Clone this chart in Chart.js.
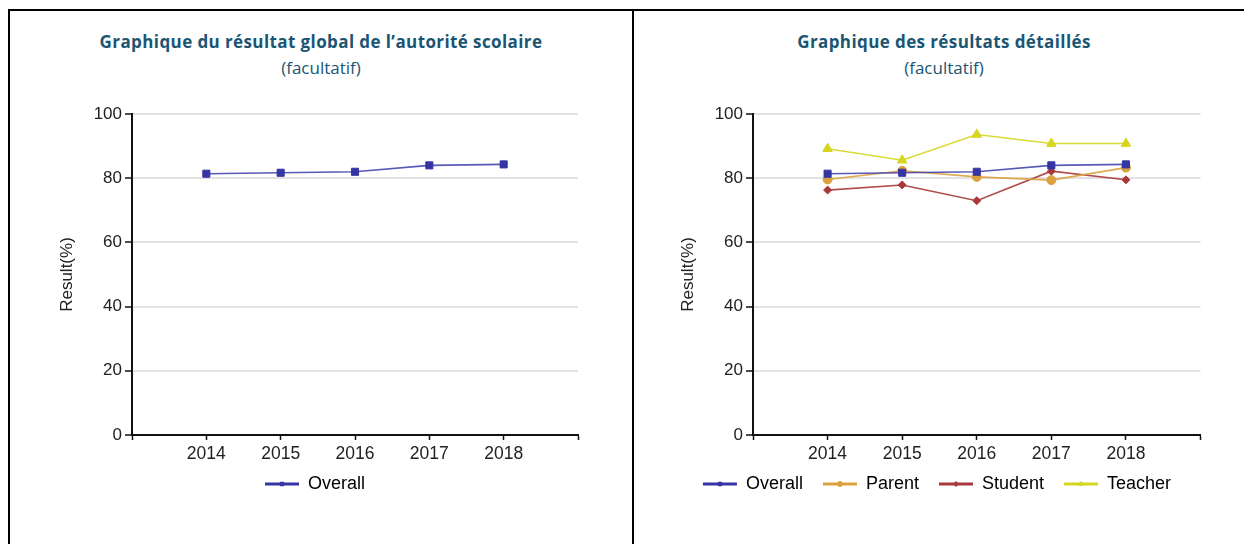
<!DOCTYPE html>
<html>
<head>
<meta charset="utf-8">
<script src="https://cdn.jsdelivr.net/npm/chart.js@4/dist/chart.umd.min.js"></script>
<style>
  html, body { margin: 0; padding: 0; background: #fff; width: 1244px; height: 544px; overflow: hidden; }
  .line { position: absolute; background: #000; }
  .title { position: absolute; text-align: center; color: #1a5573; font-family: "Open Sans", Lato, sans-serif; font-size: 17px; line-height: 20px; white-space: nowrap; }
  .title b { font-weight: 700; letter-spacing: 0.4px; }
  canvas { position: absolute; }
</style>
</head>
<body>
<div class="line" style="left:8px; top:9px; width:1236px; height:2px;"></div>
<div class="line" style="left:8px; top:9px; width:2px; height:535px;"></div>
<div class="line" style="left:632px; top:9px; width:2px; height:535px;"></div>

<div class="title" style="left:10px; width:622px; top:32px;"><b>Graphique du résultat global de l’autorité scolaire</b></div>
<div class="title" style="left:10px; width:622px; top:58px;">(facultatif)</div>
<div class="title" style="left:634px; width:620px; top:32px;"><b>Graphique des résultats détaillés</b></div>
<div class="title" style="left:634px; width:620px; top:58px;">(facultatif)</div>

<div id="w1" style="position:absolute; left:46px; top:90px; width:538px; height:454px;"><canvas id="c1"></canvas></div>
<div id="w2" style="position:absolute; left:667px; top:90px; width:540px; height:454px;"><canvas id="c2"></canvas></div>

<script>
// ---- data ----
const years = [2014, 2015, 2016, 2017, 2018];
const overall = [81.4, 81.7, 82.0, 84.0, 84.3];
const parent  = [79.6, 82.3, 80.4, 79.4, 83.3];
const student = [76.3, 77.9, 73.0, 82.2, 79.5];
const teacher = [89.2, 85.6, 93.6, 90.8, 90.8];
const yTicks = [0, 20, 40, 60, 80, 100];
const axisTitle = 'Result(%)';

const seriesStyle = {
  Overall: { color: '#3535a3', line: 'rgba(60,60,170,0.85)', point: 'rect', radius: 5 },
  Parent:  { color: '#dba13e', line: 'rgba(219,161,62,0.9)', point: 'circle', radius: 4.5 },
  Student: { color: '#a8383a', line: 'rgba(168,56,58,0.9)', point: 'rectRot', radius: 4 },
  Teacher: { color: '#d6d61e', line: 'rgba(214,214,30,0.9)', point: 'triangle', radius: 5.5 }
};

function makeDataset(name, values) {
  const s = seriesStyle[name];
  return {
    label: name,
    data: years.map((y, i) => ({ x: y, y: values[i] })),
    borderColor: s.line,
    backgroundColor: s.color,
    borderWidth: 1.6,
    pointStyle: s.point,
    pointRadius: s.radius,
    pointBackgroundColor: s.color,
    pointBorderColor: s.color,
    pointBorderWidth: 1,
    tension: 0
  };
}

const legendMarker = {
  id: 'legendMarker',
  afterDraw(chart) {
    const lg = chart.legend;
    if (!lg || !lg.legendHitBoxes) return;
    const ctx = chart.ctx;
    lg.legendHitBoxes.forEach((hb, i) => {
      const ds = chart.data.datasets[i];
      const bw = lg.options.labels.boxWidth;
      const x = hb.left + bw / 2;
      const y = hb.top + hb.height / 2;
      ctx.save();
      ctx.fillStyle = ds.pointBackgroundColor;
      ctx.strokeStyle = ds.pointBackgroundColor;
      Chart.helpers.drawPoint(ctx, { pointStyle: ds.pointStyle, radius: 2.5, rotation: 0, borderWidth: 1 }, x, y);
      ctx.restore();
    });
  }
};

function makeChart(id, datasets) {
  return new Chart(document.getElementById(id), {
    type: 'line',
    data: { datasets },
    plugins: [legendMarker],
    options: {
      responsive: true,
      maintainAspectRatio: false,
      animation: false,
      layout: { padding: { top: 24, left: 0, right: 0, bottom: 41 } },
      plugins: {
        tooltip: { enabled: false },
        title: { display: false },
        legend: {
          display: true,
          position: 'bottom',
          labels: {
            boxWidth: 34,
            boxHeight: 3,
            padding: 20,
            color: '#222',
            font: { family: 'Liberation Sans, Arial, sans-serif', size: 18 },
            generateLabels(chart) {
              return chart.data.datasets.map((d, i) => ({
                text: d.label,
                fillStyle: d.pointBackgroundColor,
                strokeStyle: d.pointBackgroundColor,
                lineWidth: 0,
                datasetIndex: i,
                hidden: false
              }));
            }
          }
        }
      },
      scales: {
        x: {
          type: 'linear',
          min: years[0] - 1,
          max: years[years.length - 1] + 1,
          afterBuildTicks(scale) {
            const t = [scale.min];
            years.forEach(v => t.push(v));
            t.push(scale.max);
            scale.ticks = t.map(v => ({ value: v }));
          },
          afterFit(scale) {
            scale.height -= 14;
            scale._computeLabelArea = () => undefined;
          },
          ticks: {
            autoSkip: false,
            maxRotation: 0,
            padding: 4,
            color: '#222',
            font: { family: 'Liberation Sans, Arial, sans-serif', size: 17.5 },
            callback: v => years.includes(v) ? String(v) : ''
          },
          grid: { drawOnChartArea: false, drawTicks: true, tickLength: 5, tickColor: '#111', tickWidth: 1.5 },
          border: { color: '#111', width: 2 }
        },
        y: {
          min: yTicks[0],
          max: yTicks[yTicks.length - 1],
          afterBuildTicks(scale) { scale.ticks = yTicks.map(v => ({ value: v })); },
          afterFit(scale) { scale.width = 86; },
          ticks: {
            padding: 3,
            color: '#222',
            font: { family: 'Liberation Sans, Arial, sans-serif', size: 17 }
          },
          grid: { color: '#e2e2e2', lineWidth: 2, drawTicks: true, tickLength: 7, tickColor: '#111', tickWidth: 1.5 },
          border: { color: '#111', width: 2 },
          title: {
            display: true,
            text: axisTitle,
            color: '#222',
            padding: { top: 11, bottom: 0 },
            font: { family: 'Liberation Sans, Arial, sans-serif', size: 17 }
          }
        }
      }
    }
  });
}

makeChart('c1', [makeDataset('Overall', overall)]);
makeChart('c2', [
  makeDataset('Overall', overall),
  makeDataset('Parent', parent),
  makeDataset('Student', student),
  makeDataset('Teacher', teacher)
]);
</script>
</body>
</html>
